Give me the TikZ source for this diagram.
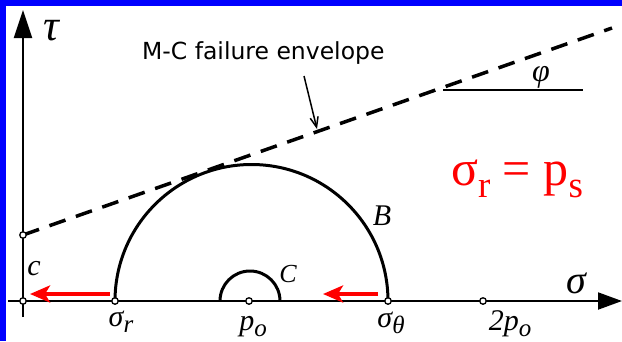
\documentclass[tikz,border=0pt]{standalone}
\usepackage{fontspec}
\newfontfamily\sansf{DejaVu Sans}
\newfontfamily\timesf{Liberation Serif}
\usetikzlibrary{arrows.meta}
\newcommand{\fs}[1]{\fontsize{#1}{#1}\selectfont}
\newcommand{\lbl}[2]{#1\raisebox{-6pt}{\fs{25}#2}}
\begin{document}
\begin{tikzpicture}[x=1pt,y=-1pt,
  axis/.style={line width=2pt},
  arcline/.style={line width=3pt},
  pnt/.style={circle,draw,fill=white,line width=1.3pt,inner sep=0pt,minimum size=6.5pt},
  lab/.style={inner sep=0pt,anchor=base,font=\timesf\itshape\fs{30}},
  redarrow/.style={red,line width=4pt,-{Stealth[length=20pt,width=17pt,inset=5pt]}},
]
\fill[white] (0,0) rectangle (622,341);
\useasboundingbox (0,0) rectangle (622,341);
\fill[blue] (0,0) rectangle (622,6);
\fill[blue] (0,0) rectangle (6,341);

% axes
\coordinate (xl) at (8,301);
\coordinate (xr) at (622,301);
\coordinate (yb) at (23,317);
\coordinate (yt) at (23,10);
\draw[axis,-{Triangle[length=24pt,width=17pt]}] (xl) -- (xr);
\draw[axis,-{Triangle[length=28pt,width=18pt]}] (yb) -- (yt);

% envelope
\coordinate (cc) at (23,235);
\coordinate (envend) at (612,28);
\draw[line width=3.5pt,dash pattern=on 17pt off 11pt] (cc) -- (envend);

% phi line
\coordinate (phl) at (443,90);
\coordinate (phr) at (583,90);
\draw[line width=1.5pt] (phl) -- (phr);

% annotation
\node[inner sep=0pt,anchor=base west,font=\sansf\fs{23.5}] (mc) at (142,59) {M-C failure envelope};
\coordinate (anns) at (304,76);
\coordinate (anne) at (317,129);
\draw[line width=1.5pt,-{Straight Barb[length=10pt,width=8pt]}] (anns) -- (anne);

% circles
\draw[arcline] (115,301) arc[start angle=180,end angle=360,radius=136.5];
\draw[arcline] (220,301) arc[start angle=180,end angle=360,radius=30];

% red arrows
\coordinate (ra1s) at (110,294);
\coordinate (ra1e) at (30,294);
\coordinate (ra2s) at (378,294);
\coordinate (ra2e) at (323,294);
\draw[redarrow] (ra1s) -- (ra1e);
\draw[redarrow] (ra2s) -- (ra2e);

% points
\node[pnt] (o) at (23,301) {};
\node[pnt] (c) at (23,235) {};
\node[pnt] (sr) at (115,301) {};
\node[pnt] (po) at (249,301) {};
\node[pnt] (st) at (388,301) {};
\node[pnt] (tpo) at (483,301) {};

% labels
\node[lab] (lc) at (34,275) {c};
\node[lab] (lsr) at (121,326) {\lbl{σ}{r}};
\node[lab] (lpo) at (253,330) {\lbl{p}{o}};
\node[lab] (lst) at (391,327) {\lbl{σ}{θ}};
\node[lab] (ltpo) at (510,330) {\lbl{2p}{o}};
\node[lab,font=\timesf\itshape\fs{30}] (lB) at (382,225) {B};
\node[lab,font=\timesf\itshape\fs{26}] (lC) at (288,282) {C};
\node[lab,font=\timesf\itshape\fs{32}] (lphi) at (541,81) {φ};
\node[lab,font=\timesf\itshape\fs{44}] (ltau) at (51,40) {τ};
\node[lab,font=\timesf\itshape\fs{40}] (lsig) at (576,293) {σ};

\node[anchor=base west,inner sep=0pt,text=red,font=\timesf\fs{50}] (eq) at (451,185)
  {σ\raisebox{-12pt}{\fs{37}r} = p\raisebox{-12pt}{\fs{37}s}};
\end{tikzpicture}
\end{document}
